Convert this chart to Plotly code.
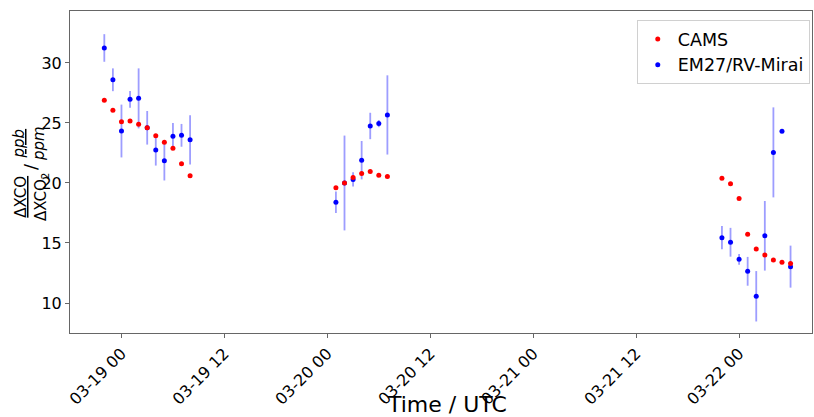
import plotly.graph_objects as go

# ---- data ----
times_c1 = ["2024-03-18 22:00", "2024-03-18 23:00", "2024-03-19 00:00", "2024-03-19 01:00",
            "2024-03-19 02:00", "2024-03-19 03:00", "2024-03-19 04:00", "2024-03-19 05:00",
            "2024-03-19 06:00", "2024-03-19 07:00", "2024-03-19 08:00"]
times_c2 = ["2024-03-20 01:00", "2024-03-20 02:00", "2024-03-20 03:00", "2024-03-20 04:00",
            "2024-03-20 05:00", "2024-03-20 06:00", "2024-03-20 07:00"]
times_c3 = ["2024-03-21 22:00", "2024-03-21 23:00", "2024-03-22 00:00", "2024-03-22 01:00",
            "2024-03-22 02:00", "2024-03-22 03:00", "2024-03-22 04:00", "2024-03-22 05:00",
            "2024-03-22 06:00"]

em27_c1 = [31.25, 28.6, 24.33, 26.97, 27.05, 24.6, 22.75, 21.86, 23.9, 23.97, 23.6]
em27_err_c1 = [1.15, 0.95, 2.2, 0.7, 2.5, 1.4, 1.3, 1.65, 1.1, 0.95, 2.05]
cams_c1 = [26.9, 26.05, 25.1, 25.17, 24.9, 24.6, 23.94, 23.4, 22.9, 21.6, 20.6]

em27_c2 = [18.4, 20.0, 20.3, 21.9, 24.75, 24.95, 25.67]
em27_err_c2 = [0.9, 3.95, 0.6, 1.6, 1.1, 0.3, 3.3]
cams_c2 = [19.6, 20.0, 20.45, 20.8, 20.95, 20.64, 20.53]

em27_c3 = [15.44, 15.06, 13.64, 12.64, 10.56, 15.6, 22.55, 24.3, 13.03]
em27_err_c3 = [0.97, 1.2, 0.45, 1.2, 2.1, 2.9, 3.75, 0.1, 1.75]
cams_c3 = [20.4, 19.94, 18.7, 15.72, 14.5, 14.0, 13.58, 13.39, 13.3]

tick_vals = ["2024-03-19 00:00", "2024-03-19 12:00", "2024-03-20 00:00", "2024-03-20 12:00",
             "2024-03-21 00:00", "2024-03-21 12:00", "2024-03-22 00:00"]
tick_text = ["03-19 00", "03-19 12", "03-20 00", "03-20 12", "03-21 00", "03-21 12", "03-22 00"]
y_ticks = [10, 15, 20, 25, 30]

times = times_c1 + times_c2 + times_c3
em27 = em27_c1 + em27_c2 + em27_c3
em27_err = em27_err_c1 + em27_err_c2 + em27_err_c3
cams = cams_c1 + cams_c2 + cams_c3

FONT = "DejaVu Sans"

fig = go.Figure()
fig.add_trace(go.Scatter(
    x=times, y=em27, mode="markers", name="EM27/RV-Mirai",
    marker=dict(color="blue", size=5),
    error_y=dict(type="data", array=em27_err, visible=True,
                 color="rgba(60,60,255,0.5)", thickness=1.8, width=0),
))
fig.add_trace(go.Scatter(
    x=times, y=cams, mode="markers", name="CAMS",
    marker=dict(color="red", size=5),
))

W, H = 814, 417
L, R, T, B = 70, 2, 11, 84
pw, ph = W - L - R, H - T - B

def px(xp):
    return (xp - L) / pw

def py(yp):
    return (H - B - yp) / ph

axis_common = dict(showline=True, linecolor="#666", linewidth=1, mirror=True,
                   ticks="outside", ticklen=4, tickcolor="#666", showgrid=False,
                   zeroline=False, automargin=False,
                   tickfont=dict(family=FONT, size=16, color="black"))

fig.update_xaxes(type="date", range=["2024-03-18 18:00", "2024-03-22 08:30"],
                 tickvals=tick_vals, ticktext=tick_text, tickangle=-45,
                 **axis_common)
fig.update_yaxes(range=[7.5, 34.33], tickvals=y_ticks, ticktext=[str(v) for v in y_ticks],
                 **axis_common)

fig.add_annotation(xref="paper", yref="paper", x=px(447), y=py(404),
                   text="Time / UTC", showarrow=False, xanchor="center", yanchor="middle",
                   font=dict(family=FONT, size=22, color="black"))
fig.add_annotation(xref="paper", yref="paper", x=px(31), y=py(197),
                   text="<u>ΔXCO</u><br>ΔXCO<sub>2</sub>", textangle=-90, showarrow=False,
                   xanchor="center", yanchor="middle",
                   font=dict(family=FONT, size=15, color="black"))
fig.add_annotation(xref="paper", yref="paper", x=px(30), y=py(167),
                   text="/", textangle=-90, showarrow=False,
                   xanchor="center", yanchor="middle",
                   font=dict(family=FONT, size=18, color="black"))
fig.add_annotation(xref="paper", yref="paper", x=px(29), y=py(144),
                   text="<i><u>ppb</u><br>ppm</i>", textangle=-90, showarrow=False,
                   xanchor="center", yanchor="middle",
                   font=dict(family=FONT, size=15, color="black"))

fig.update_layout(
    width=W, height=H,
    margin=dict(l=L, r=R, t=T, b=B, autoexpand=False),
    plot_bgcolor="white", paper_bgcolor="white",
    showlegend=True,
    legend=dict(x=0.997, xanchor="right", y=py(20), yanchor="top",
                traceorder="reversed", bgcolor="rgba(255,255,255,0.9)",
                bordercolor="#d0d0d0", borderwidth=1, itemwidth=30,
                font=dict(family=FONT, size=17.5, color="black")),
)

fig.write_html("out.html", config={"displayModeBar": False},
               post_script="document.body.style.margin='0';document.body.style.overflow='hidden';")
